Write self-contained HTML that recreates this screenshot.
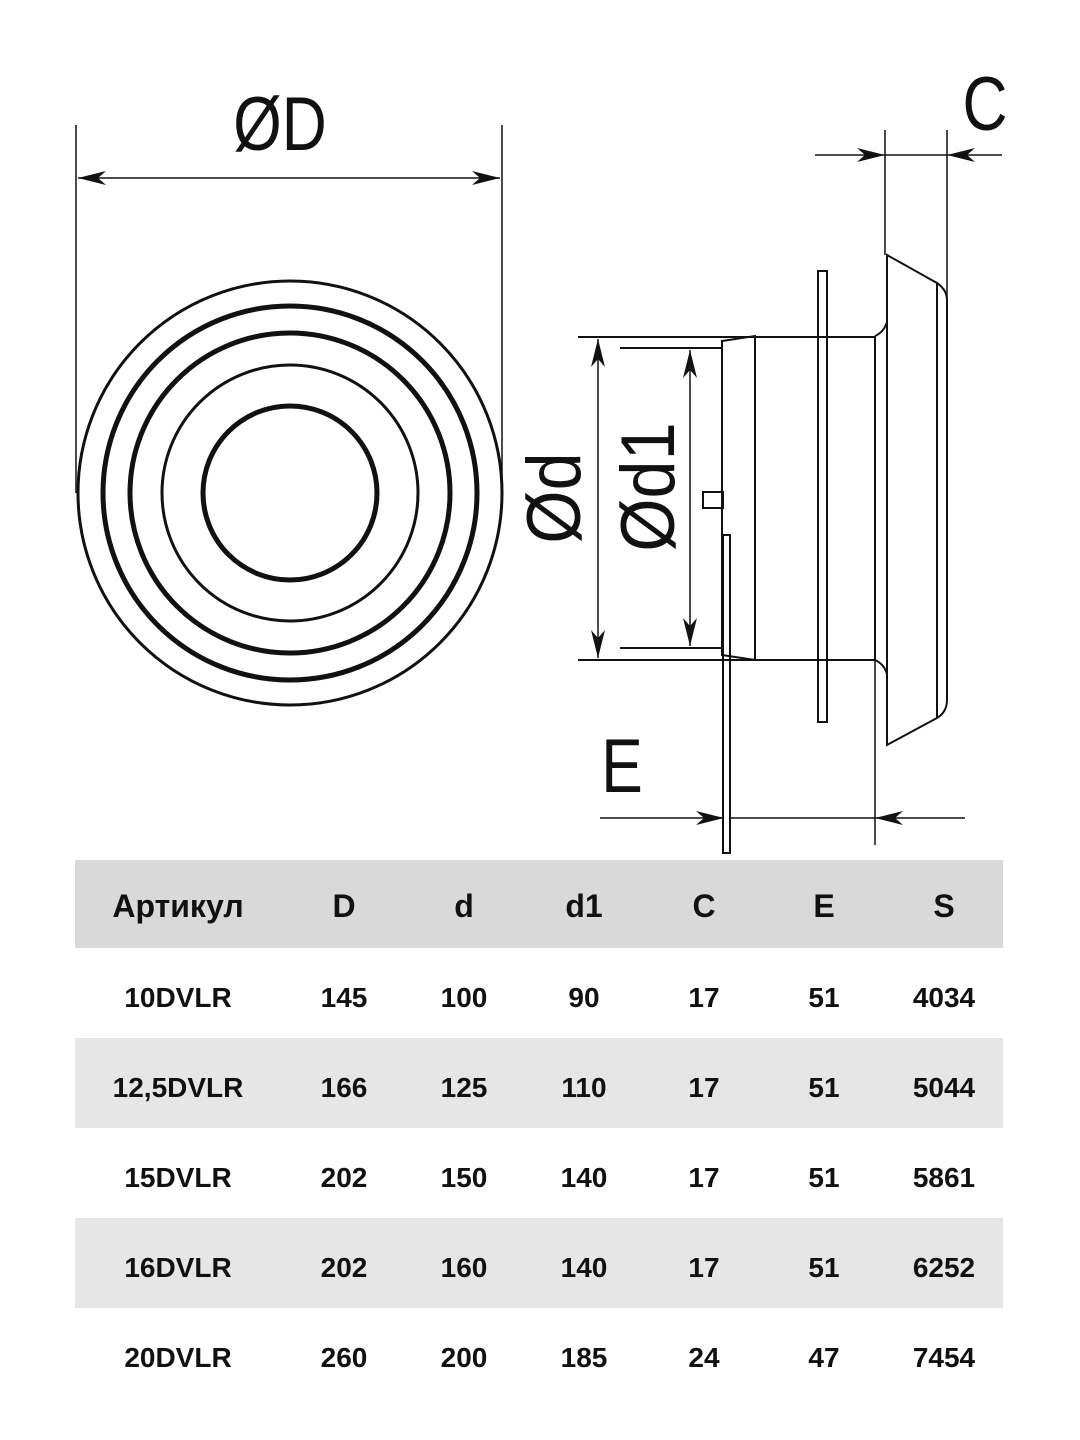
<!DOCTYPE html>
<html><head><meta charset="utf-8"><style>
body{margin:0;background:#fff;width:1080px;height:1440px;overflow:hidden;position:relative;font-family:"Liberation Sans",sans-serif}
svg{position:absolute;left:0;top:0}
</style></head><body>
<svg width="1080" height="1440" viewBox="0 0 1080 1440" xmlns="http://www.w3.org/2000/svg">
<defs>
<marker id="a" viewBox="0 0 28 14" refX="28" refY="7" markerWidth="28" markerHeight="14" markerUnits="userSpaceOnUse" orient="auto-start-reverse"><path d="M0,0 L28,7 L0,14 L8,7z" fill="#111"/></marker>
</defs>
<g fill="none" stroke="#111">
<circle cx="290" cy="493" r="212" stroke-width="3"/>
<circle cx="290" cy="493" r="187" stroke-width="5"/>
<circle cx="290" cy="493" r="160" stroke-width="5"/>
<circle cx="290" cy="493" r="128" stroke-width="3"/>
<circle cx="290" cy="493" r="87" stroke-width="5"/>
<line x1="76" y1="125" x2="76" y2="493" stroke-width="1.5"/>
<line x1="502" y1="125" x2="502" y2="493" stroke-width="1.5"/>
<line x1="78" y1="178" x2="500" y2="178" stroke-width="1.5" marker-start="url(#a)" marker-end="url(#a)"/>
<g stroke-width="2">
<path d="M578,337 H875"/><path d="M578,660 H875"/>
<path d="M620,348 H722"/><path d="M620,648 H722"/>
<path d="M722,341 L755,336 V660 L722,655 Z"/>
<path d="M875,336 V660"/>
<rect x="818" y="271" width="9" height="451"/>
<path d="M875,336 Q884,332 887,322 M875,660 Q884,664 887,674"/>
<path d="M887,255 V745 L937,718 Q947,712 947,700 V300 Q947,290 937,283 Z"/>
<path d="M937,283 V718"/>
<rect x="703" y="492" width="20" height="16"/>
<rect x="723" y="535" width="7" height="318"/>
</g>
<line x1="598" y1="339" x2="598" y2="658" stroke-width="1.5" marker-start="url(#a)" marker-end="url(#a)"/>
<line x1="690" y1="350" x2="690" y2="646" stroke-width="1.5" marker-start="url(#a)" marker-end="url(#a)"/>
<line x1="885" y1="130" x2="885" y2="255" stroke-width="1.5"/>
<line x1="947" y1="130" x2="947" y2="300" stroke-width="1.5"/>
<line x1="815" y1="155" x2="885" y2="155" stroke-width="1.5" marker-end="url(#a)"/>
<line x1="885" y1="155" x2="947" y2="155" stroke-width="1.5"/>
<line x1="1002" y1="155" x2="947" y2="155" stroke-width="1.5" marker-end="url(#a)"/>
<line x1="875" y1="660" x2="875" y2="845" stroke-width="1.5"/>
<line x1="600" y1="818" x2="724" y2="818" stroke-width="1.5" marker-end="url(#a)"/>
<line x1="730" y1="818" x2="875" y2="818" stroke-width="1.5"/>
<line x1="965" y1="818" x2="875" y2="818" stroke-width="1.5" marker-end="url(#a)"/>
</g>
<g fill="#111" font-family="Liberation Sans, sans-serif" font-size="76">
<text transform="translate(280,150) scale(0.82,1)" text-anchor="middle">ØD</text>
<text transform="translate(985,130) scale(0.82,1)" text-anchor="middle">C</text>
<text transform="translate(622,792) scale(0.82,1)" text-anchor="middle">E</text>
<text transform="translate(580,498) rotate(-90) scale(0.9,1)" text-anchor="middle">Ød</text>
<text transform="translate(674,487) rotate(-90) scale(0.9,1)" text-anchor="middle">Ød1</text>
</g>
<rect x="75" y="860" width="928" height="88" fill="#d9d9d9"/>
<rect x="75" y="1038" width="928" height="90" fill="#e6e6e6"/>
<rect x="75" y="1218" width="928" height="90" fill="#e6e6e6"/>
<g fill="#111" font-family="Liberation Sans, sans-serif" font-weight="bold" text-anchor="middle">
<g font-size="32">
<text x="178" y="917">Артикул</text><text x="344" y="917">D</text><text x="464" y="917">d</text><text x="584" y="917">d1</text><text x="704" y="917">C</text><text x="824" y="917">E</text><text x="944" y="917">S</text>
</g>
<g font-size="28">
<text x="178" y="1007">10DVLR</text><text x="344" y="1007">145</text><text x="464" y="1007">100</text><text x="584" y="1007">90</text><text x="704" y="1007">17</text><text x="824" y="1007">51</text><text x="944" y="1007">4034</text>
<text x="178" y="1097">12,5DVLR</text><text x="344" y="1097">166</text><text x="464" y="1097">125</text><text x="584" y="1097">110</text><text x="704" y="1097">17</text><text x="824" y="1097">51</text><text x="944" y="1097">5044</text>
<text x="178" y="1187">15DVLR</text><text x="344" y="1187">202</text><text x="464" y="1187">150</text><text x="584" y="1187">140</text><text x="704" y="1187">17</text><text x="824" y="1187">51</text><text x="944" y="1187">5861</text>
<text x="178" y="1277">16DVLR</text><text x="344" y="1277">202</text><text x="464" y="1277">160</text><text x="584" y="1277">140</text><text x="704" y="1277">17</text><text x="824" y="1277">51</text><text x="944" y="1277">6252</text>
<text x="178" y="1367">20DVLR</text><text x="344" y="1367">260</text><text x="464" y="1367">200</text><text x="584" y="1367">185</text><text x="704" y="1367">24</text><text x="824" y="1367">47</text><text x="944" y="1367">7454</text>
</g>
</g>
</svg>
</body></html>
